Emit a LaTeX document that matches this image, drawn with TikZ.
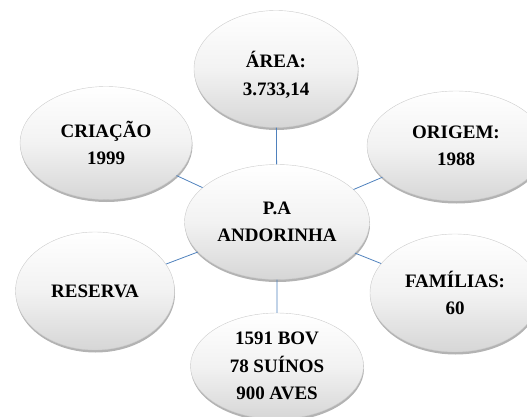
\documentclass[tikz,border=0pt]{standalone}
\usepackage{fontspec}
\setmainfont{Liberation Serif}
\usetikzlibrary{shapes.geometric,shadows}
\definecolor{spokeblue}{RGB}{79,129,189}

\begin{document}
\begin{tikzpicture}[x=1pt, y=-1pt]
\useasboundingbox (0,0) rectangle (527,417);
\tikzstyle{every node}=[draw=gray!40, shape=ellipse, inner sep=0pt, align=center,
  top color=white, bottom color=black!16, middle color=white!95!black,
  drop shadow={shadow xshift=0.5pt, shadow yshift=-2.5pt, fill=black!50, opacity=0.6},
  font=\fontsize{19}{27.5}\selectfont\bfseries];
\node [minimum width=185, minimum height=115] (pa) at (277,222) {P.A\\ANDORINHA};
\node [minimum width=164, minimum height=117] (area) at (276,69) {\mbox{}\\ÁREA:\\3.733,14};
\node [minimum width=178, minimum height=110] (origem) at (456,146) {ORIGEM:\\1988};
\node [minimum width=170, minimum height=118] (familias) at (455,293) {FAMÍLIAS:\\60};
\node [minimum width=173, minimum height=106] (rebanho) at (277,366) {1591 BOV\\78 SUÍNOS\\900 AVES};
\node [minimum width=159, minimum height=118] (reserva) at (95,291) {RESERVA};
\node [minimum width=172, minimum height=113] (criacao) at (106,143) {CRIAÇÃO\\1999};
\draw [spokeblue, line width=0.8pt] (pa) -- (area) % spokes
  (pa) -- (origem)
  (pa) -- (familias)
  (pa) -- (rebanho)
  (pa) -- (reserva)
  (pa) -- (criacao);
\end{tikzpicture}
\end{document}
